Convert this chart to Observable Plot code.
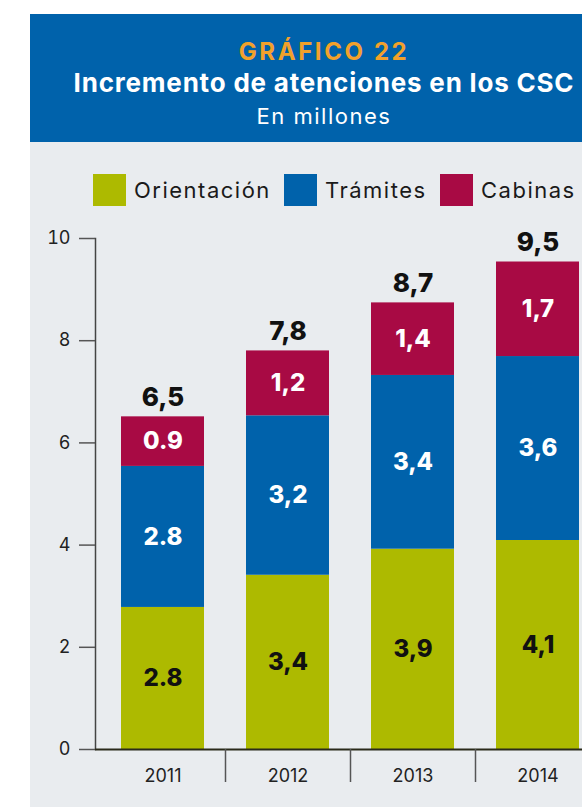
<!DOCTYPE html>
<html><head><meta charset="utf-8">
<script src="https://cdn.jsdelivr.net/npm/d3@7"></script>
<script src="https://cdn.jsdelivr.net/npm/@observablehq/plot@0.6"></script>
<style>
html,body{margin:0;padding:0;background:#fff;overflow:hidden;}
#page{position:relative;width:582px;height:807px;overflow:hidden;font-family:Inter,"Open Sans",sans-serif;}
#panel{position:absolute;left:30px;top:14px;width:552px;height:793px;background:#E9ECEF;}
#header{position:absolute;left:30px;top:14px;width:552px;height:128px;background:#0062AB;}
#headtext{position:absolute;left:0;top:0;}
.legend-item{position:absolute;top:174px;display:flex;align-items:center;height:32px;white-space:nowrap;}
.swatch{width:33px;height:32px;margin-right:8px;flex:none;}
.legend-item span{font-size:22px;color:#1a1a1a;letter-spacing:1.5px;}
#chart{position:absolute;left:0;top:210px;}
</style></head><body><div id="page">
<div id="panel"></div>
<div id="header"></div>
<div id="headtext"></div>
<div id="legend"></div>
<div id="chart"></div>
</div>
<script>
const years = ["2011", "2012", "2013", "2014"];
const series = ["Orientación", "Trámites", "Cabinas"];
const orientacion = [2.78, 3.41, 3.92, 4.09];
const tramites = [2.76, 3.12, 3.40, 3.60];
const cabinas = [0.97, 1.27, 1.42, 1.85];
const orientacionLabels = ["2.8", "3,4", "3,9", "4,1"];
const tramitesLabels = ["2.8", "3,2", "3,4", "3,6"];
const cabinasLabels = ["0.9", "1,2", "1,4", "1,7"];
const totalLabels = ["6,5", "7,8", "8,7", "9,5"];
const yTicks = [0, 2, 4, 6, 8, 10];
const colors = ["#ADBA00", "#0062AB", "#A80A44"];
const titleText = "GRÁFICO 22";
const subtitleText = "Incremento de atenciones en los CSC";
const unitText = "En millones";

const seriesValues = [orientacion, tramites, cabinas];
const seriesLabels = [orientacionLabels, tramitesLabels, cabinasLabels];
const data = [];
series.forEach((s, si) => years.forEach((y, yi) => data.push({year: y, series: s, value: seriesValues[si][yi], label: seriesLabels[si][yi]})));
const totals = years.map((y, i) => d3.sum(seriesValues, v => v[i]));

// Header
const hs = d3.select("#headtext").append("svg").attr("width", 582).attr("height", 142);
hs.append("text").attr("x", 324).attr("y", 59.5).attr("text-anchor", "middle").attr("letter-spacing", 2.6)
  .attr("fill", "#F2A12B").attr("font-weight", 700).attr("font-size", 24).attr("font-family", "Inter, sans-serif").text(titleText);
hs.append("text").attr("x", 324).attr("y", 92).attr("text-anchor", "middle").attr("letter-spacing", 0.8)
  .attr("fill", "#fff").attr("font-weight", 700).attr("font-size", 26).attr("font-family", "Inter, sans-serif").text(subtitleText);
hs.append("text").attr("x", 324).attr("y", 123.5).attr("text-anchor", "middle").attr("letter-spacing", 1.5)
  .attr("fill", "#fff").attr("font-weight", 400).attr("font-size", 22).attr("font-family", "Inter, sans-serif").text(unitText);

// Legend
const legendLeft = [93, 284, 440];
const lg = d3.select("#legend");
series.forEach((s, i) => {
  const it = lg.append("div").attr("class", "legend-item").style("left", legendLeft[i] + "px");
  it.append("div").attr("class", "swatch").style("background", colors[i]);
  it.append("span").text(s);
});

const chart = Plot.plot({
  width: 582,
  height: 589,
  marginTop: 28,
  marginBottom: 50,
  marginLeft: 95,
  marginRight: 0,
  style: {background: "transparent", fontFamily: "Inter, sans-serif", color: "#222"},
  x: {domain: years, range: [100, 600], paddingInner: 0.336, paddingOuter: 0.168, align: 0.5},
  y: {domain: [0, 10]},
  color: {domain: series, range: colors},
  marks: [
    Plot.barY(data, Plot.stackY({x: "year", y: "value", z: "series", fill: "series"})),
    Plot.text(data, Plot.stackY({x: "year", y: "value", z: "series",
      text: d => d.series === series[0] ? d.label : "", fill: "#111", fontSize: 24, fontWeight: 800})),
    Plot.text(data, Plot.stackY({x: "year", y: "value", z: "series",
      text: d => d.series === series[0] ? "" : d.label, fill: "#fff", fontSize: 24, fontWeight: 800})),
    Plot.text(years, {x: d => d, y: (d, i) => totals[i], text: (d, i) => totalLabels[i],
      dy: -19, fill: "#111", fontSize: 26, fontWeight: 800}),
    Plot.frame({anchor: "left", stroke: "#444", strokeWidth: 1.5}),
    Plot.ruleY([0], {stroke: "#2a2a1a", strokeWidth: 2}),
    Plot.axisY({ticks: yTicks, tickSize: 16, tickPadding: 9, fontSize: 18, strokeWidth: 1.5, stroke: "#555", label: null}),
    Plot.axisX({ticks: years.slice(0, 3), tickSize: 33, dx: 62.5, tickFormat: () => "", strokeWidth: 1.5, stroke: "#555", label: null}),
    Plot.axisX({tickSize: 0, tickPadding: 20, fontSize: 18, label: null})
  ]
});
document.getElementById("chart").appendChild(chart);
</script>
</body></html>
